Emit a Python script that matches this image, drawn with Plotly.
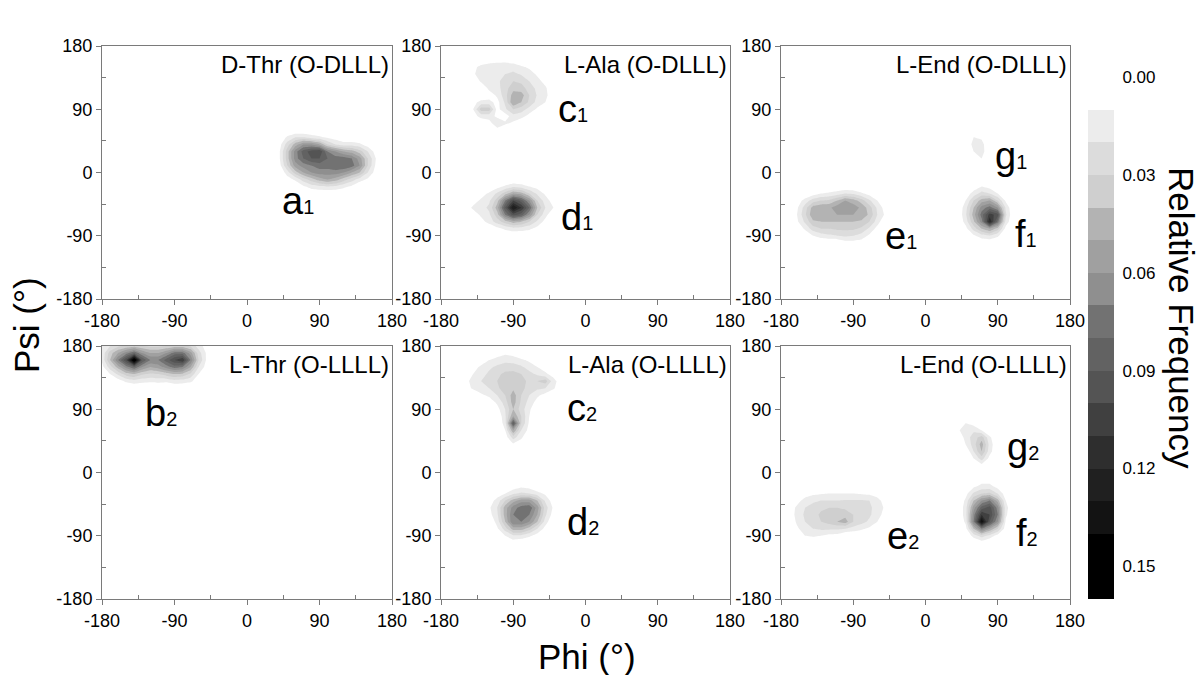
import numpy as np
import plotly.graph_objects as go

# ---------------- data ----------------
PHI = list(range(-180, 181, 10))   # grid nodes (deg)
PSI = list(range(-180, 181, 10))

# each cluster: rows of (psi, first phi, relative frequencies along phi, step 10 deg)
A1 = [
    (50, 50, [0.012, 0.020, 0.020, 0.015, 0.012, 0.008, 0.005]),
    (40, 40, [0.005, 0.025, 0.045, 0.060, 0.060, 0.050, 0.030, 0.020, 0.015, 0.015, 0.012, 0.005]),
    (30, 40, [0.008, 0.035, 0.065, 0.085, 0.095, 0.100, 0.070, 0.060, 0.050, 0.045, 0.035, 0.020, 0.005]),
    (20, 40, [0.008, 0.035, 0.065, 0.080, 0.090, 0.090, 0.080, 0.075, 0.075, 0.070, 0.055, 0.030, 0.010]),
    (10, 40, [0.005, 0.030, 0.055, 0.065, 0.070, 0.075, 0.075, 0.080, 0.080, 0.075, 0.060, 0.030, 0.008]),
    (0, 50, [0.015, 0.035, 0.050, 0.060, 0.065, 0.065, 0.065, 0.060, 0.050, 0.040, 0.020, 0.005]),
    (-10, 50, [0.005, 0.012, 0.025, 0.035, 0.045, 0.050, 0.045, 0.035, 0.025, 0.015, 0.008]),
    (-20, 70, [0.008, 0.015, 0.018, 0.020, 0.018, 0.013, 0.008]),
]
B2 = [
    (180, -180, [0.010, 0.020, 0.028, 0.032, 0.035, 0.030, 0.028, 0.028, 0.030, 0.035, 0.035, 0.028, 0.015, 0.005]),
    (170, -180, [0.012, 0.035, 0.050, 0.065, 0.080, 0.060, 0.050, 0.050, 0.060, 0.075, 0.075, 0.055, 0.025, 0.008]),
    (160, -180, [0.012, 0.040, 0.070, 0.100, 0.160, 0.090, 0.070, 0.070, 0.085, 0.100, 0.110, 0.070, 0.030, 0.008]),
    (150, -180, [0.006, 0.025, 0.045, 0.065, 0.080, 0.060, 0.050, 0.055, 0.065, 0.075, 0.070, 0.050, 0.020, 0.005]),
    (140, -170, [0.010, 0.022, 0.035, 0.040, 0.032, 0.028, 0.030, 0.035, 0.040, 0.038, 0.028, 0.010]),
    (130, -160, [0.005, 0.012, 0.016, 0.013, 0.012, 0.013, 0.012, 0.016, 0.015, 0.012, 0.004]),
]
C1 = [
    (160, -120, [0.004, 0.006, 0.006, 0.004]),
    (150, -140, [0.006, 0.014, 0.016, 0.016, 0.017, 0.016, 0.012, 0.008]),
    (140, -140, [0.008, 0.016, 0.018, 0.019, 0.020, 0.022, 0.019, 0.015, 0.008]),
    (130, -130, [0.012, 0.016, 0.018, 0.024, 0.030, 0.028, 0.020, 0.014, 0.006]),
    (120, -120, [0.013, 0.016, 0.026, 0.036, 0.034, 0.026, 0.017, 0.012]),
    (110, -120, [0.004, 0.012, 0.026, 0.045, 0.045, 0.030, 0.019, 0.014]),
    (100, -140, [0.006, 0.014, 0.014, 0.006, 0.022, 0.050, 0.040, 0.028, 0.016, 0.010]),
    (90, -140, [0.010, 0.035, 0.035, 0.006, 0.018, 0.030, 0.025, 0.016, 0.008]),
    (80, -140, [0.005, 0.014, 0.014, 0.008, 0.004, 0.016, 0.014, 0.006]),
    (70, -120, [0.006, 0.017, 0.012, 0.008]),
    (60, -110, [0.006]),
]
D1 = [
    (-20, -110, [0.006, 0.012, 0.018, 0.015, 0.010, 0.006]),
    (-30, -130, [0.005, 0.012, 0.022, 0.035, 0.050, 0.045, 0.030, 0.018, 0.008]),
    (-40, -140, [0.005, 0.012, 0.018, 0.035, 0.070, 0.100, 0.085, 0.060, 0.030, 0.015, 0.005]),
    (-50, -150, [0.004, 0.012, 0.016, 0.022, 0.045, 0.090, 0.130, 0.110, 0.080, 0.040, 0.020, 0.010]),
    (-60, -140, [0.004, 0.012, 0.018, 0.035, 0.070, 0.095, 0.085, 0.060, 0.030, 0.014]),
    (-70, -130, [0.006, 0.014, 0.025, 0.035, 0.045, 0.040, 0.030, 0.018, 0.006]),
    (-80, -110, [0.006, 0.012, 0.016, 0.015, 0.012, 0.006]),
]
E1 = [
    (-30, -140, [0.005, 0.010, 0.012, 0.015, 0.020, 0.018, 0.012, 0.006]),
    (-40, -160, [0.004, 0.014, 0.025, 0.030, 0.032, 0.040, 0.050, 0.045, 0.035, 0.022, 0.010]),
    (-50, -160, [0.008, 0.025, 0.045, 0.048, 0.048, 0.055, 0.058, 0.055, 0.048, 0.035, 0.018, 0.005]),
    (-60, -160, [0.010, 0.028, 0.048, 0.050, 0.050, 0.050, 0.050, 0.050, 0.048, 0.038, 0.020, 0.008]),
    (-70, -160, [0.008, 0.022, 0.038, 0.040, 0.040, 0.040, 0.040, 0.040, 0.038, 0.030, 0.015]),
    (-80, -150, [0.012, 0.025, 0.030, 0.030, 0.032, 0.032, 0.032, 0.028, 0.018, 0.006]),
    (-90, -140, [0.010, 0.015, 0.018, 0.020, 0.022, 0.020, 0.016, 0.008]),
    (-100, -100, [0.005, 0.006, 0.005]),
]
F1 = [
    (-20, 60, [0.004, 0.010, 0.006]),
    (-30, 50, [0.004, 0.014, 0.024, 0.020, 0.010]),
    (-40, 50, [0.010, 0.030, 0.045, 0.050, 0.030, 0.008]),
    (-50, 50, [0.016, 0.040, 0.065, 0.075, 0.060, 0.018]),
    (-60, 50, [0.018, 0.045, 0.075, 0.105, 0.095, 0.022]),
    (-70, 50, [0.014, 0.038, 0.065, 0.120, 0.075, 0.016]),
    (-80, 50, [0.006, 0.024, 0.040, 0.050, 0.035, 0.006]),
    (-90, 60, [0.008, 0.016, 0.020, 0.012]),
]
G1 = [
    (50, 60, [0.010, 0.008]),
    (40, 60, [0.014, 0.014]),
    (30, 60, [0.010, 0.015]),
    (20, 60, [0.004, 0.010]),
]
C2 = [
    (170, -110, [0.004, 0.008, 0.006]),
    (160, -130, [0.004, 0.010, 0.014, 0.016, 0.015, 0.012, 0.008]),
    (150, -140, [0.006, 0.012, 0.018, 0.022, 0.026, 0.026, 0.022, 0.015, 0.010, 0.005]),
    (140, -140, [0.010, 0.016, 0.022, 0.028, 0.032, 0.033, 0.030, 0.024, 0.018, 0.012, 0.006]),
    (130, -150, [0.006, 0.014, 0.020, 0.025, 0.030, 0.035, 0.036, 0.033, 0.028, 0.030, 0.035, 0.014, 0.004]),
    (120, -150, [0.004, 0.012, 0.016, 0.020, 0.028, 0.035, 0.038, 0.033, 0.026, 0.022, 0.020, 0.012]),
    (110, -130, [0.008, 0.012, 0.020, 0.030, 0.045, 0.030, 0.020, 0.012, 0.006]),
    (100, -120, [0.004, 0.012, 0.025, 0.045, 0.028, 0.016, 0.006]),
    (90, -110, [0.006, 0.020, 0.040, 0.025, 0.012]),
    (80, -100, [0.018, 0.050, 0.030, 0.010]),
    (70, -100, [0.015, 0.090, 0.030, 0.008]),
    (60, -100, [0.010, 0.050, 0.020, 0.006]),
    (50, -100, [0.004, 0.025, 0.012]),
    (40, -90, [0.008, 0.004]),
]
D2 = [
    (-20, -90, [0.004, 0.008, 0.006]),
    (-30, -110, [0.004, 0.010, 0.018, 0.022, 0.020, 0.014, 0.008]),
    (-40, -120, [0.004, 0.014, 0.030, 0.045, 0.055, 0.055, 0.040, 0.018, 0.004]),
    (-50, -120, [0.008, 0.020, 0.045, 0.065, 0.075, 0.078, 0.055, 0.025, 0.008]),
    (-60, -120, [0.006, 0.018, 0.045, 0.070, 0.075, 0.070, 0.050, 0.022, 0.005]),
    (-70, -110, [0.014, 0.040, 0.070, 0.070, 0.060, 0.040, 0.015]),
    (-80, -110, [0.008, 0.025, 0.045, 0.045, 0.035, 0.020, 0.006]),
    (-90, -100, [0.010, 0.018, 0.018, 0.012, 0.005]),
    (-100, -90, [0.004]),
]
E2 = [
    (-30, -150, [0.005, 0.008, 0.009, 0.010, 0.010, 0.010, 0.010, 0.009, 0.008, 0.005]),
    (-40, -160, [0.006, 0.014, 0.018, 0.020, 0.020, 0.020, 0.021, 0.021, 0.021, 0.020, 0.014, 0.005]),
    (-50, -170, [0.004, 0.012, 0.020, 0.024, 0.028, 0.030, 0.030, 0.028, 0.026, 0.024, 0.022, 0.016, 0.008]),
    (-60, -170, [0.004, 0.013, 0.022, 0.026, 0.032, 0.036, 0.038, 0.036, 0.030, 0.026, 0.022, 0.014, 0.006]),
    (-70, -160, [0.012, 0.020, 0.024, 0.030, 0.034, 0.040, 0.045, 0.030, 0.024, 0.018, 0.010]),
    (-80, -160, [0.008, 0.016, 0.020, 0.022, 0.022, 0.022, 0.020, 0.016, 0.012, 0.008]),
    (-90, -150, [0.010, 0.012, 0.010, 0.007, 0.006]),
]
F2 = [
    (-10, 70, [0.004, 0.004]),
    (-20, 60, [0.008, 0.014, 0.014, 0.006]),
    (-30, 50, [0.006, 0.022, 0.030, 0.032, 0.020, 0.004]),
    (-40, 50, [0.012, 0.040, 0.060, 0.070, 0.045, 0.010]),
    (-50, 50, [0.015, 0.055, 0.085, 0.095, 0.065, 0.014]),
    (-60, 50, [0.015, 0.065, 0.110, 0.100, 0.070, 0.012]),
    (-70, 50, [0.012, 0.070, 0.140, 0.090, 0.060, 0.008]),
    (-80, 50, [0.006, 0.040, 0.070, 0.050, 0.030, 0.004]),
    (-90, 60, [0.014, 0.025, 0.016, 0.006]),
    (-100, 70, [0.004]),
]
G2 = [
    (70, 40, [0.008, 0.010, 0.006]),
    (60, 40, [0.008, 0.016, 0.018, 0.010]),
    (50, 50, [0.014, 0.025, 0.035, 0.012]),
    (40, 50, [0.010, 0.025, 0.045, 0.016]),
    (30, 60, [0.020, 0.040, 0.014]),
    (20, 60, [0.010, 0.025, 0.006]),
    (10, 70, [0.006]),
]

PANEL_CLUSTERS = [[A1], [C1, D1], [E1, F1, G1], [B2], [C2, D2], [E2, F2, G2]]
PANEL_TITLES = ["D-Thr (O-DLLL)", "L-Ala (O-DLLL)", "L-End (O-DLLL)",
                "L-Thr (O-LLLL)", "L-Ala (O-LLLL)", "L-End (O-LLLL)"]
# cluster labels: (panel index, letter, subscript, phi, psi)
LABEL_PANEL = [0, 1, 1, 2, 2, 2, 3, 4, 4, 5, 5, 5]
LABEL_LETTER = ["a", "c", "d", "g", "e", "f", "b", "c", "d", "g", "e", "f"]
LABEL_SUB = ["1", "1", "1", "1", "1", "1", "2", "2", "2", "2", "2", "2"]
LABEL_PHI = [63, -15, -11, 107, -30, 125, -107, -4, -3, 122, -28, 126]
LABEL_PSI = [-41, 91, -63, 23, -91, -88, 85, 92, -70, 37, -90, -86]

TICK_VALS = [-180, -90, 0, 90, 180]
TICK_LABELS = ["-180", "-90", "0", "90", "180"]
MINOR_VALS = [-135, -45, 45, 135]

LEVEL_EDGES = [0.00, 0.01, 0.02, 0.03, 0.04, 0.05, 0.06, 0.07, 0.08,
               0.09, 0.10, 0.11, 0.12, 0.13, 0.14, 0.15, 0.16]
BAND_COLORS = ["#ffffff", "#ececec", "#dcdcdc", "#cfcfcf", "#b3b3b3", "#a0a0a0",
               "#8f8f8f", "#727272", "#626262", "#545454", "#404040", "#2e2e2e",
               "#202020", "#131313", "#000000", "#000000"]
CB_TICKS = [0.00, 0.03, 0.06, 0.09, 0.12, 0.15]
CB_LABELS = ["0.00", "0.03", "0.06", "0.09", "0.12", "0.15"]

# ---------------- build ----------------
FONT = "Liberation Sans, Arial, sans-serif"
AXIS_COLOR = "#7a7a7a"
# the page body has an 8 px margin: the figure is drawn from (8, 8)
OFF = 8
FIG_W, FIG_H = 1204 - OFF, 675 - OFF


def fx(px):
    return (px - OFF) / FIG_W


def fy(py):
    return 1 - (py - OFF) / FIG_H


n = len(BAND_COLORS)
colorscale = [[k / (n - 1), c] for k, c in enumerate(BAND_COLORS)]

phi_idx = {v: i for i, v in enumerate(PHI)}
psi_idx = {v: i for i, v in enumerate(PSI)}


def build_grid(clusters):
    z = np.zeros((len(PSI), len(PHI)))
    for cl in clusters:
        for psi, phi0, vals in cl:
            j0 = phi_idx[phi0]
            z[psi_idx[psi], j0:j0 + len(vals)] += np.array(vals)
    return z


XDOM = [[fx(102), fx(392)], [fx(441), fx(730)], [fx(781), fx(1070)]]
YDOM = [[fy(299), fy(46)], [fy(599), fy(346)]]

fig = go.Figure()
layout = dict(width=FIG_W, height=FIG_H,
              margin=dict(l=0, r=0, t=0, b=0, pad=0, autoexpand=False),
              paper_bgcolor="white", plot_bgcolor="white", showlegend=False,
              font=dict(family=FONT, color="black"))
annotations = []

for p in range(6):
    r, c = divmod(p, 3)
    sfx = "" if p == 0 else str(p + 1)
    z = build_grid(PANEL_CLUSTERS[p])
    fig.add_trace(go.Contour(
        x=PHI, y=PSI, z=z, xaxis="x" + sfx, yaxis="y" + sfx,
        colorscale=colorscale, zmin=LEVEL_EDGES[0], zmax=LEVEL_EDGES[-1],
        contours=dict(start=LEVEL_EDGES[1], end=LEVEL_EDGES[-2], size=0.01,
                      coloring="fill", showlines=False),
        line=dict(width=0, smoothing=0), showscale=False, hoverinfo="skip"))
    common = dict(range=[-180, 180], tickmode="array", tickvals=TICK_VALS,
                  ticktext=TICK_LABELS, ticks="outside", ticklen=5, tickwidth=1,
                  tickcolor=AXIS_COLOR, showline=True, linecolor=AXIS_COLOR,
                  linewidth=1, mirror=True, showgrid=False, zeroline=False,
                  automargin=False,
                  tickfont=dict(size=18, family=FONT, color="black"),
                  minor=dict(tickmode="array", tickvals=MINOR_VALS, ticks="inside",
                             ticklen=4, tickcolor=AXIS_COLOR, showgrid=False))
    layout["xaxis" + sfx] = dict(domain=XDOM[c], anchor="y" + sfx, **common)
    layout["yaxis" + sfx] = dict(domain=YDOM[r], anchor="x" + sfx, **common)
    annotations.append(dict(text=PANEL_TITLES[p], xref="x" + sfx + " domain",
                            yref="y" + sfx + " domain", x=0.995, y=0.99,
                            xanchor="right", yanchor="top", showarrow=False,
                            font=dict(size=24, family=FONT, color="black")))

for k in range(len(LABEL_PANEL)):
    p = LABEL_PANEL[k]
    sfx = "" if p == 0 else str(p + 1)
    annotations.append(dict(
        text=LABEL_LETTER[k] + "<span style='font-size:20px'>" + LABEL_SUB[k] + "</span>",
        xref="x" + sfx, yref="y" + sfx, x=LABEL_PHI[k], y=LABEL_PSI[k],
        xanchor="center", yanchor="middle", showarrow=False,
        font=dict(size=38, family=FONT, color="black")))

# colour key drawn as a heatmap on its own axes (0 at top)
band_centers = [(LEVEL_EDGES[i] + LEVEL_EDGES[i + 1]) / 2 for i in range(len(LEVEL_EDGES) - 1)]
fig.add_trace(go.Heatmap(
    x=[0], y=band_centers, z=[[v] for v in band_centers], xaxis="x7", yaxis="y7",
    colorscale=colorscale, zmin=band_centers[0], zmax=band_centers[-1],
    showscale=False, hoverinfo="skip"))
layout["xaxis7"] = dict(domain=[fx(1088), fx(1114)], anchor="y7", range=[-0.5, 0.5],
                        visible=False, automargin=False)
layout["yaxis7"] = dict(domain=[fy(599), fy(77)], anchor="x7",
                        range=[LEVEL_EDGES[-1], LEVEL_EDGES[0]], side="right",
                        tickmode="array", tickvals=CB_TICKS, ticktext=CB_LABELS,
                        ticks="outside", ticklen=4, tickcolor="rgba(0,0,0,0)",
                        showline=False, showgrid=False, zeroline=False, automargin=False,
                        tickfont=dict(size=17, family=FONT, color="black"))

annotations += [
    dict(text="Phi (°)", xref="paper", yref="paper", x=fx(587), y=fy(656),
         xanchor="center", yanchor="middle", showarrow=False,
         font=dict(size=35, family=FONT, color="black")),
    dict(text="Psi (°)", xref="paper", yref="paper", x=fx(27), y=fy(325),
         xanchor="center", yanchor="middle", showarrow=False, textangle=-90,
         font=dict(size=35, family=FONT, color="black")),
    dict(text="Relative Frequency", xref="paper", yref="paper", x=fx(1182),
         y=fy(318), xanchor="center", yanchor="middle", showarrow=False,
         textangle=90, font=dict(size=35, family=FONT, color="black")),
]
layout["annotations"] = annotations
fig.update_layout(**layout)
fig.write_html("out.html")
